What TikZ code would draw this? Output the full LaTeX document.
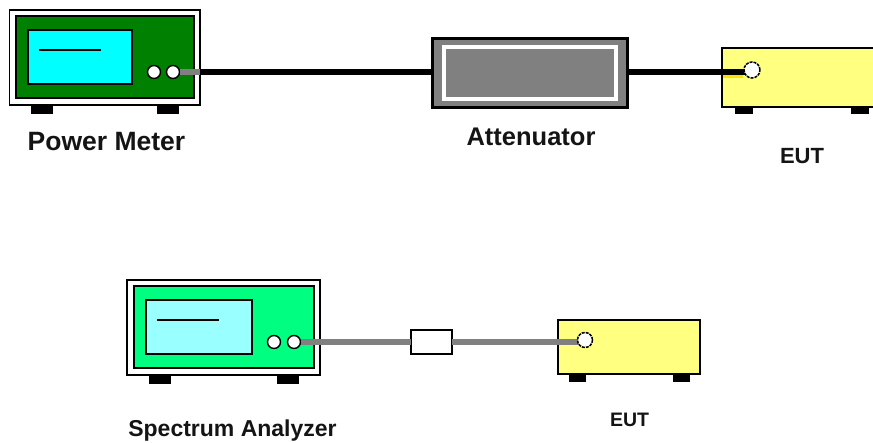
\documentclass[tikz,border=0pt]{standalone}
\usepackage{fontspec}
\setmainfont{Liberation Sans}
\definecolor{dkgreen}{RGB}{0,128,0}
\definecolor{ltgreen}{RGB}{0,255,128}
\definecolor{purecyan}{RGB}{0,255,255}
\definecolor{ltcyan}{RGB}{153,255,255}
\definecolor{paleyel}{RGB}{255,255,128}
\definecolor{glow}{RGB}{255,225,0}
\definecolor{midgray}{RGB}{128,128,128}
\tikzset{
  px/.style={x=1pt,y=-1pt},
  boxshape/.style={rectangle,draw=black,inner sep=0pt,outer sep=0pt},
  outercase/.style={boxshape,fill=white,line width=1.6pt},
  panel/.style={boxshape,line width=2pt},
  screen/.style={boxshape,line width=2pt},
  foot/.style={rectangle,fill=black,draw=none,inner sep=0pt,outer sep=0pt},
  port/.style={circle,draw=black,fill=white,line width=1.4pt,inner sep=0pt,outer sep=0pt},
  eutport/.style={circle,draw=black,fill=white,line width=1.5pt,dash pattern=on 3pt off 1pt,inner sep=0pt,outer sep=0pt},
  eutcase/.style={boxshape,fill=paleyel,line width=1.6pt},
  blackcable/.style={draw=black,line width=5.5pt},
  graycable/.style={draw=midgray,line width=5.5pt},
  lbl/.style={inner sep=0pt,outer sep=0pt,font=\bfseries\fontsize{#1}{#1}\selectfont,text=black!92},
}
\newcommand{\bx}[5][]{\node[#1,minimum width=#4 pt,minimum height=#5 pt] (#2) at (#3) {};}
\begin{document}
\begin{tikzpicture}[px]
\useasboundingbox (0,0) rectangle (873,442);
\clip (0,0) rectangle (873,442);
% Power meter
\bx[foot]{pmfa}{42,109}{22}{9}
\bx[foot]{pmfb}{168,109}{22}{9}
\bx[outercase]{pmcase}{104.75,57.5}{190.5}{95}
\bx[panel,fill=dkgreen]{pmpanel}{105,57}{178}{82}
\bx[screen,fill=purecyan]{pmscreen}{80,57}{104}{54}
\coordinate (pmla) at (39,50); \coordinate (pmlb) at (101,50);
\draw[line width=1.6pt] (pmla) -- (pmlb);
\coordinate (pmbk) at (200,72);
\node[port,minimum size=13pt] (pmpa) at (154,72) {};
\node[port,minimum size=13pt] (pmpb) at (173,72) {};
% Attenuator
\bx[boxshape,fill=midgray,line width=3.5pt]{att}{530,73}{195}{69}
\bx[boxshape,draw=white,fill=midgray,line width=3.5pt]{attin}{530,73}{172}{52}
% EUT 1
\bx[foot]{eafa}{744,110}{18}{7}
\bx[foot]{eafb}{860,110}{18}{7}
\bx[eutcase]{eut}{810,77.5}{176}{59}
\fill[glow] (723,72) rectangle (743,78);
% top cables
\draw[graycable] (pmpb.east) -- (pmbk);
\draw[blackcable] (pmbk) -- (pmbk -| att.west);
\coordinate (eutc) at (745,72);
\draw[blackcable] (eutc -| att.east) -- (eutc);
\node[eutport,minimum size=16pt] (ep) at (752,70) {};
% Labels
\node[lbl=26.5] (lpm) at (106.5,141.5) {Power Meter};
\node[lbl=25.5] (lat) at (531,137) {Attenuator};
\node[lbl=22] (leu) at (802,156) {EUT};
% Spectrum analyzer
\bx[foot]{safa}{160,379}{22}{9}
\bx[foot]{safb}{288,379}{22}{9}
\bx[outercase]{sacase}{223.5,327.5}{193}{95}
\bx[panel,fill=ltgreen]{sapanel}{224,327}{180}{82}
\bx[screen,fill=ltcyan]{sascreen}{199,327}{106}{54}
\coordinate (sala) at (157,320); \coordinate (salb) at (219,320);
\draw[line width=1.6pt] (sala) -- (salb);
\node[port,minimum size=13pt] (sapa) at (274,342) {};
\node[port,minimum size=13pt] (sapb) at (294,342) {};
% EUT 2
\bx[foot]{ebfa}{577,378}{17}{7}
\bx[foot]{ebfb}{681,378}{17}{7}
\bx[eutcase]{eutb}{629,347}{142}{54}
\bx[boxshape,fill=white,line width=1.6pt]{fil}{431.5,342}{41}{24}
\coordinate (ebc) at (580,342);
\draw[graycable] (sapb.east) -- (fil.west);
\draw[graycable] (fil.east) -- (ebc);
\node[eutport,minimum size=15pt] (ebp) at (585,340) {};
\node[lbl=23] (lsa) at (232.5,431) {Spectrum Analyzer};
\node[lbl=19.5] (leb) at (629.5,420) {EUT};
\end{tikzpicture}
\end{document}
